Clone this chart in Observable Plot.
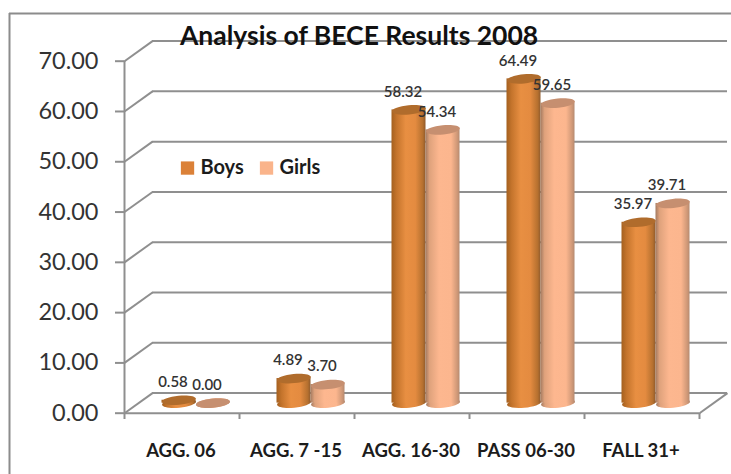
<!DOCTYPE html>
<html>
<head>
<meta charset="utf-8">
<script src="https://cdn.jsdelivr.net/npm/d3@7"></script>
<script src="https://cdn.jsdelivr.net/npm/@observablehq/plot@0.6"></script>
<style>html,body{margin:0;padding:0;background:#fff;overflow:hidden}svg{display:block}</style>
</head>
<body>
<div id="chart"></div>
<script>
const categories = ["AGG. 06", "AGG. 7 -15", "AGG. 16-30", "PASS 06-30", "FALL 31+"];
const boys = [0.58, 4.89, 58.32, 64.49, 35.97];
const girls = [0.00, 3.70, 54.34, 59.65, 39.71];
const yTicks = [0, 10, 20, 30, 40, 50, 60, 70];
const xTicks = [0, 1, 2, 3, 4, 5];
const titleText = "Analysis of BECE Results 2008";

// Depth of the fake 3D box, in scale units
const depthX = 0.2435, depthY = 4;
const barW = 0.2957;
const FONT = "Lato, 'Open Sans', sans-serif";
const GRID = "#8f8f8f";

// Tilted flat ellipse as a dot symbol
const tiltedEllipse = {
  draw(ctx, size) {
    const rx = Math.sqrt(size / Math.PI), ry = rx * 0.27, a = -0.095;
    const k = 0.5523, c = Math.cos(a), s = Math.sin(a);
    const p = (x, y) => [x * c - y * s, x * s + y * c];
    ctx.moveTo(...p(rx, 0));
    ctx.bezierCurveTo(...p(rx, k * ry), ...p(k * rx, ry), ...p(0, ry));
    ctx.bezierCurveTo(...p(-k * rx, ry), ...p(-rx, k * ry), ...p(-rx, 0));
    ctx.bezierCurveTo(...p(-rx, -k * ry), ...p(-k * rx, -ry), ...p(0, -ry));
    ctx.bezierCurveTo(...p(k * rx, -ry), ...p(rx, -k * ry), ...p(rx, 0));
    ctx.closePath();
  }
};

const table = (vals, shift) => vals.map((v, i) => ({
  cat: categories[i], v,
  cx: i + 0.5 + depthX / 2 + shift * barW,
  y0: depthY / 2, y1: v + depthY / 2
}));
const boysT = table(boys, -0.5), girlsT = table(girls, 0.5);

const defs = () => {
  const el = d3.create("svg:defs");
  const grad = (id, stops) => {
    const g = el.append("linearGradient").attr("id", id);
    stops.forEach(([o, c]) => g.append("stop").attr("offset", o).attr("stop-color", c));
  };
  grad("boysG", [[0, "#a4601f"], [0.15, "#c4742c"], [0.42, "#e88f42"], [0.7, "#e48b40"], [0.92, "#b5702f"], [1, "#8f5a2c"]]);
  grad("girlsG", [[0, "#a37a60"], [0.12, "#dfa27c"], [0.4, "#fdb78f"], [0.75, "#fcb68e"], [0.93, "#cf9877"], [1, "#b58a70"]]);
  return el.node();
};

const cylinder = (t, body, cap) => [
  Plot.dot(t, {x: "cx", y: "y0", r: barW * 57.5, symbol: tiltedEllipse, fill: body, stroke: "none"}),
  Plot.rect(t, {x1: d => d.cx - barW / 2, x2: d => d.cx + barW / 2, y1: "y0", y2: "y1", fill: body}),
  Plot.dot(t, {x: "cx", y: "y1", r: barW * 57.5, symbol: tiltedEllipse, fill: cap, stroke: "none"})
];
const valueLabels = t => Plot.text(t, {
  x: "cx", y: "y1", text: d => d.v.toFixed(2), dx: -6, dy: -18,
  fontFamily: FONT, fontSize: 15, fontWeight: 600, fill: "#333"
});

const chart = Plot.plot({
  width: 731, height: 474,
  marginLeft: 124, marginRight: 0, marginTop: 0, marginBottom: 61,
  style: {background: "#fff"},
  x: {type: "linear", domain: [0, 5], range: [124, 699]},
  y: {type: "linear", domain: [0, 70], range: [412.7, 60.7]},
  marks: [
    defs,
    // outer border
    Plot.ruleX([-1], {y1: -13, y2: 79.5, stroke: "#8c8c8c", strokeWidth: 2}),
    Plot.ruleY([79.5], {x1: -1, x2: 5.4, stroke: "#8c8c8c", strokeWidth: 2}),
    // back wall lines and side-wall diagonals
    Plot.ruleY(yTicks, {y: d => d + depthY, x1: depthX, x2: 5 + depthX, stroke: GRID, strokeWidth: 2}),
    Plot.link(yTicks, {x1: 0, y1: d => d, x2: depthX, y2: d => d + depthY, stroke: GRID, strokeWidth: 2}),
    // floor
    Plot.ruleY([0], {x1: 0, x2: 5, stroke: GRID, strokeWidth: 2}),
    Plot.link([0], {x1: 5, y1: 0, x2: 5 + depthX, y2: depthY, stroke: GRID, strokeWidth: 2}),
    Plot.ruleX([0], {y1: 0, y2: 70, stroke: GRID, strokeWidth: 2}),
    // axes
    Plot.axisY(yTicks, {anchor: "left", label: null, tickSize: 9, tickPadding: 17, tickFormat: d => d.toFixed(2),
      stroke: GRID, fill: "#333", fontFamily: FONT, fontSize: 23.5, strokeWidth: 2}),
    Plot.axisX(xTicks, {anchor: "bottom", label: null, tickSize: 6, tickFormat: () => "", stroke: GRID, strokeWidth: 2}),
    Plot.text(categories, {x: (d, i) => i + 0.5, frameAnchor: "bottom", dy: 43, dx: -1, text: d => d,
      fontFamily: FONT, fontSize: 18.5, fontWeight: 700, fill: "#1c1c1c"}),
    // cylinders
    ...cylinder(boysT, "url(#boysG)", "#b06c2c"),
    ...cylinder(girlsT, "url(#girlsG)", "#c68f70"),
    valueLabels(boysT),
    valueLabels(girlsT),
    // legend
    Plot.dot([{x: 0.548, c: "#db8138"}, {x: 1.235, c: "#fab48b"}], {x: "x", y: 48.75, r: 7.5, symbol: "square", fill: "c", stroke: "none"}),
    Plot.text([{x: 0.66, t: "Boys"}, {x: 1.348, t: "Girls"}], {x: "x", y: 48.75, text: "t", textAnchor: "start",
      fontFamily: FONT, fontSize: 20, fontWeight: 700, fill: "#1c1c1c"}),
    // title
    Plot.text([titleText], {x: 2.04, y: 74.9, text: d => d, fontFamily: FONT, fontSize: 26.5, fontWeight: 700, fill: "#111"})
  ]
});
document.getElementById("chart").appendChild(chart);
</script>
</body>
</html>
